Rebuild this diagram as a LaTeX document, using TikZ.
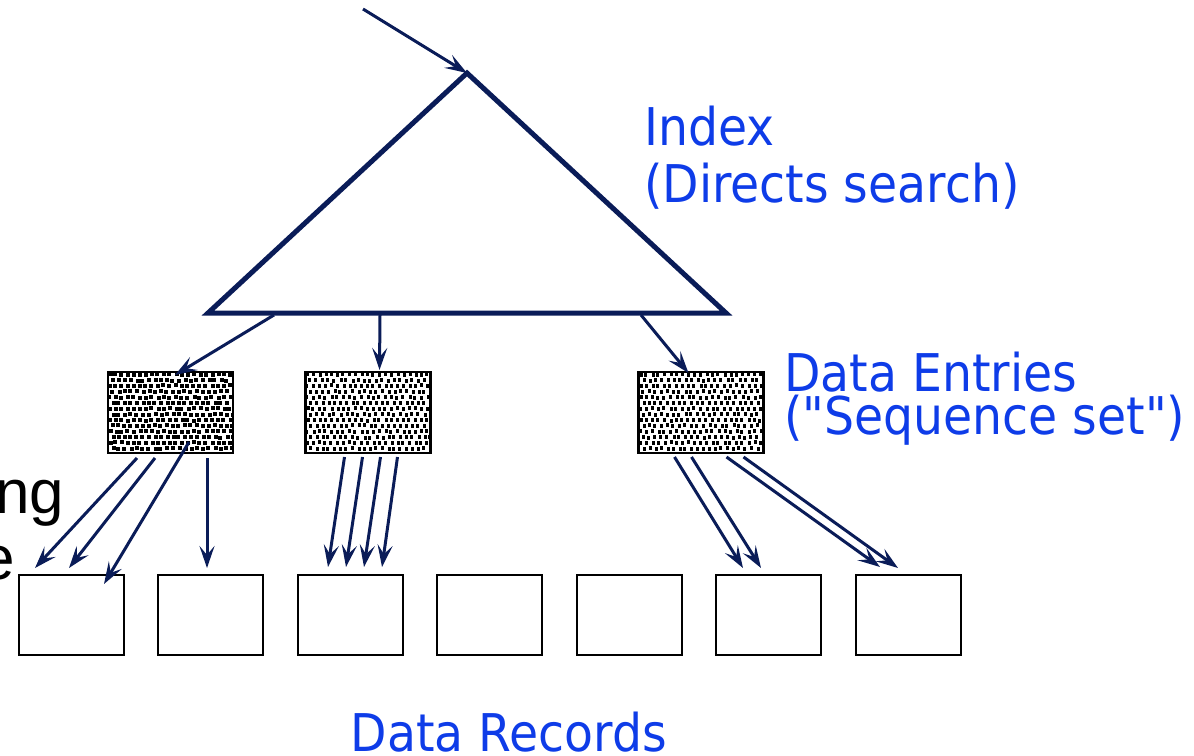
\documentclass[tikz,border=0pt]{standalone}
\usepackage{fontspec}
\usetikzlibrary{arrows.meta,calc}
\newfontfamily\labelfont[FakeStretch=0.91]{DejaVu Sans}
\newfontfamily\sidefont{Liberation Sans}
\definecolor{navy}{RGB}{10,28,88}
\definecolor{labelblue}{RGB}{14,60,232}

% halftone-like dither over a data-entry page (dots snapped to whole units),
% then its frame redrawn on top
\newcommand\ditherpage[1]{%
  \begin{scope}
    \clip (#1.south west) rectangle (#1.north east);
    \foreach \row in {0,...,14}{%
      \foreach \col in {0,...,21}{%
        \pgfmathtruncatemacro\dotx{\col*6+mod(\row,2)*3+round(2*rnd-1)}%
        \pgfmathtruncatemacro\doty{round(\row*5.7+rnd)}%
        \fill[black] ($(#1.north west)+(\dotx,\doty)$) rectangle ++(3.5,3.5);%
      }%
    }%
  \end{scope}
  \draw[black,line width=2.5pt] (#1.south west) rectangle (#1.north east);%
}

\begin{document}
\begin{tikzpicture}[x=1pt,y=-1pt,
  link/.style={draw=navy,line width=3pt,-{Stealth[length=22pt,width=15pt,inset=9pt]}},
  entrybox/.style={draw=black,line width=2.5pt,fill=white,minimum width=125pt,minimum height=81pt,
    inner sep=0pt,outer sep=0pt},
  recordbox/.style={draw=black,line width=2.4pt,fill=white,minimum width=105pt,minimum height=80pt,
    inner sep=0pt,outer sep=0pt},
  bluelabel/.style={text=labelblue,font=\labelfont\fontsize{52}{60}\selectfont,anchor=base west,inner sep=0pt},
  sidelabel/.style={text=black,font=\sidefont\fontsize{62}{70}\selectfont,anchor=base west,inner sep=0pt}]
\pgfmathsetseed{7}
\useasboundingbox (0,0) rectangle (1194,755);

% index triangle
\coordinate (apex) at (467,73);
\coordinate (bl) at (208,313);
\coordinate (br) at (726,313);
\coordinate (entry) at (363,9);
\coordinate (tb1) at (274,315);
\coordinate (tb2) at (380,315);
\coordinate (tb3) at (641,315);
\draw[navy,line width=5pt] (apex) -- (bl) -- (br) -- cycle;
\draw[link] (entry) -- (apex);

% data entries
\node[entrybox] (e1) at (170.5,412.5) {};
\node[entrybox] (e2) at (368,412.5) {};
\node[entrybox] (e3) at (701,412.5) {};
\ditherpage{e1}
\ditherpage{e2}
\ditherpage{e3}

% data records
\foreach \n/\cx in {1/71.5,2/210.5,3/350.5,4/489.5,5/629.5,6/768.5,7/908.5}
  \node[recordbox] (r\n) at (\cx,615) {};

% index to entries
\draw[link] (tb1) -- ($(e1.north west)+(67,3)$);
\draw[link] (tb2) -- ($(e2.north west)+(74,-2)$);
\draw[link] (tb3) -- ($(e3.north west)+(50,1)$);

% entries to records
\draw[link] ($(e1.south west)+(29,5)$) -- ($(r1.north west)+(16,-7)$);
\draw[link] ($(e1.south west)+(47,5)$) -- ($(r1.north west)+(50,-7)$);
\draw[link] ($(e1.south west)+(81,-11)$) -- ($(r1.north west)+(85,9)$);
\draw[link] ($(e1.south west)+(99,5)$) -- ($(r2.north west)+(49,-7)$);

\draw[link] ($(e2.south west)+(39,4)$) -- ($(r3.north west)+(30,-8)$);
\draw[link] ($(e2.south west)+(57,4)$) -- ($(r3.north west)+(48,-8)$);
\draw[link] ($(e2.south west)+(75,4)$) -- ($(r3.north west)+(66,-8)$);
\draw[link] ($(e2.south west)+(92,4)$) -- ($(r3.north west)+(84,-8)$);

\draw[link] ($(e3.south west)+(36,4)$) -- ($(r6.north west)+(27,-7)$);
\draw[link] ($(e3.south west)+(53,4)$) -- ($(r6.north west)+(45,-7)$);
\draw[link] ($(e3.south west)+(88,4)$) -- ($(r7.north west)+(24,-8)$);
\draw[link] ($(e3.south west)+(105,4)$) -- ($(r7.north west)+(42,-7)$);

% labels
\node[bluelabel] (lidx) at (644,145) {Index};
\node[bluelabel] (lidx2) at (644,202) {(Directs search)};
\node[bluelabel] (lent) at (784,391) {Data Entries};
\node[bluelabel] (lent2) at (784,434) {("Sequence set")};
\node[bluelabel] (lrec) at (350.5,751) {Data Records};
\node[sidelabel] (sng) at (-5,513) {ng};
\node[sidelabel] (se) at (-20,579) {e};
\end{tikzpicture}
\end{document}
